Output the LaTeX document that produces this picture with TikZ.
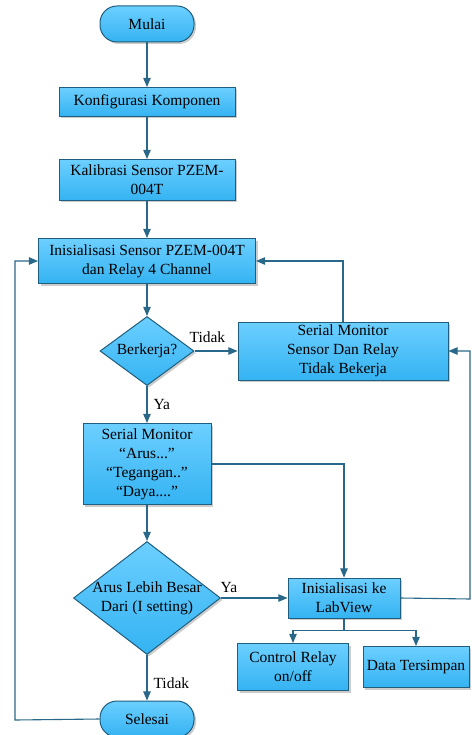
\documentclass[tikz,border=0pt]{standalone}
\usepackage{fontspec}
\setmainfont{Liberation Serif}
\usepackage{xcolor}
\usetikzlibrary{shapes,shapes.geometric,arrows,positioning,calc,shadows}

\definecolor{boxtop}{HTML}{6CCFFF}
\definecolor{boxbot}{HTML}{34B3F2}
\definecolor{boxline}{HTML}{1F5E7E}
\definecolor{flowline}{HTML}{2A6889}

\tikzset{
    flowbox/.style={draw=boxline, line width=1pt, top color=boxtop, bottom color=boxbot,
        drop shadow={shadow xshift=2pt, shadow yshift=-2pt, fill=black!40, opacity=0.5},
        font=\fontsize{15.5}{19}\selectfont, align=center, inner sep=1pt},
    terminal/.style={flowbox, rectangle, rounded corners=17pt, minimum width=94pt, minimum height=36pt},
    process/.style={flowbox, rectangle},
    decision/.style={flowbox, diamond, inner sep=-2pt, aspect=1.3},
    flow/.style={draw=flowline, line width=1.1pt, ->, >=triangle 45},
    lbl/.style={font=\fontsize{15.5}{19}\selectfont, inner sep=2pt}
}

\begin{document}
\begin{tikzpicture}[x=1pt, y=1pt, node distance=78pt]
    \useasboundingbox (0,0) rectangle (471,-735);

    \node (mulai) [terminal] at (147,-24) {Mulai};
    \node (konfig) [process, below of=mulai, minimum width=176pt, minimum height=29pt] {Konfigurasi Komponen};
    \node (kalib) [process, below of=konfig, minimum width=176pt, minimum height=41pt] {Kalibrasi Sensor PZEM-\\004T};
    \node (init) [process, below of=kalib, yshift=-3pt, minimum width=217pt, minimum height=45pt] {Inisialisasi Sensor PZEM-004T\\dan Relay 4 Channel};
    \node (berkerja) [decision, below of=init, yshift=-12pt, minimum width=94pt, minimum height=69pt] {Berkerja?};
    \node (sensor) [process, right of=berkerja, xshift=118pt, minimum width=210pt, minimum height=58pt] {Serial Monitor\\Sensor Dan Relay\\Tidak Bekerja};
    \node (smarus) [process, below of=berkerja, yshift=-35pt, minimum width=128pt, minimum height=81pt] {Serial Monitor\\“Arus...”\\“Tegangan..”\\“Daya....”};
    \node (arus) [decision, below of=smarus, yshift=-56pt, minimum width=147pt, minimum height=113pt] {Arus Lebih Besar\\Dari (I setting)};
    \node (labview) [process, right of=arus, xshift=119pt, minimum width=112pt, minimum height=40pt] {Inisialisasi ke\\LabView};
    \node (ctrl) [process, below of=labview, xshift=-51pt, yshift=9pt, minimum width=111pt, minimum height=47pt] {Control Relay\\on/off};
    \node (data) [process, below of=labview, xshift=72pt, yshift=9pt, minimum width=106pt, minimum height=41pt] {Data Tersimpan};
    \node (selesai) [terminal, below of=arus, yshift=-43pt] {Selesai};

    % loop rails
    \coordinate (railL) at (15,-720);
    \coordinate (railR) at (470,-599);
    \coordinate[below=12pt of labview] (branch);

    \draw [flow] (mulai) -- (konfig);
    \draw [flow] (konfig) -- (kalib);
    \draw [flow] (kalib) -- (init);
    \draw [flow] (init) -- (berkerja);
    \draw [flow] (berkerja) -- node[lbl, above, pos=0.3, yshift=6pt] (tidakA) {Tidak} (sensor);
    \draw [flow] (berkerja) -- node[lbl, right, midway, xshift=4pt] (yaA) {Ya} (smarus);
    \draw [flow] (sensor.north) |- (init.east);
    \draw [flow] (smarus) -- (arus);
    \draw [flow] (smarus.east) -| (labview.north);
    \draw [flow] (arus) -- node[lbl, above, pos=0.12, yshift=3pt] (yaB) {Ya} (labview);
    \draw [flow] (arus) -- node[lbl, right, pos=0.62, xshift=4pt] (tidakB) {Tidak} (selesai);
    \draw [flow] (selesai.west) -- (railL) |- (init.west);
    \draw [flow] (labview.east) -- (railR) |- (sensor.east);
    \draw [flow] (labview.south) -- (branch) -| (ctrl.north);
    \draw [flow] (branch) -| (data.north);
\end{tikzpicture}
\end{document}
